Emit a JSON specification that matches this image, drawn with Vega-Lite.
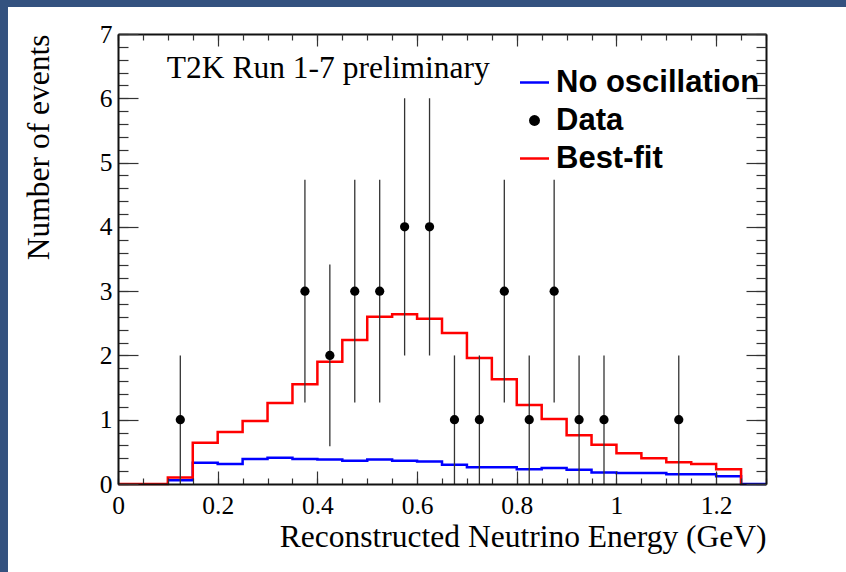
{
  "$schema": "https://vega.github.io/schema/vega-lite/v6.json",
  "width": 648,
  "height": 450,
  "autosize": "none",
  "padding": {"left": 118, "top": 34, "right": 80, "bottom": 88},
  "background": "#34527f",
  "config": {
    "view": {"stroke": null},
    "axis": {
      "zindex": 2, "grid": false,
      "labelFont": "Liberation Serif", "labelFontSize": 25.5, "labelColor": "#000",
      "titleFont": "Liberation Serif", "titleFontSize": 31.5, "titleFontWeight": "normal", "titleColor": "#000",
      "tickColor": "#333", "tickWidth": 1.2, "domainColor": "#111", "domainWidth": 2,
      "labelFlush": false, "labelOverlap": false, "format": "~g"
    }
  },
  "datasets": {
    "noosc": [
      {"series": "No oscillation", "e": 0.1, "v": 0.06},
      {"series": "No oscillation", "e": 0.15, "v": 0.33},
      {"series": "No oscillation", "e": 0.2, "v": 0.31},
      {"series": "No oscillation", "e": 0.25, "v": 0.39},
      {"series": "No oscillation", "e": 0.3, "v": 0.41},
      {"series": "No oscillation", "e": 0.35, "v": 0.39},
      {"series": "No oscillation", "e": 0.4, "v": 0.38},
      {"series": "No oscillation", "e": 0.45, "v": 0.36},
      {"series": "No oscillation", "e": 0.5, "v": 0.38},
      {"series": "No oscillation", "e": 0.55, "v": 0.36},
      {"series": "No oscillation", "e": 0.6, "v": 0.35},
      {"series": "No oscillation", "e": 0.65, "v": 0.30},
      {"series": "No oscillation", "e": 0.7, "v": 0.26},
      {"series": "No oscillation", "e": 0.75, "v": 0.26},
      {"series": "No oscillation", "e": 0.8, "v": 0.23},
      {"series": "No oscillation", "e": 0.85, "v": 0.25},
      {"series": "No oscillation", "e": 0.9, "v": 0.22},
      {"series": "No oscillation", "e": 0.95, "v": 0.18},
      {"series": "No oscillation", "e": 1.0, "v": 0.17},
      {"series": "No oscillation", "e": 1.05, "v": 0.17},
      {"series": "No oscillation", "e": 1.1, "v": 0.15},
      {"series": "No oscillation", "e": 1.15, "v": 0.15},
      {"series": "No oscillation", "e": 1.2, "v": 0.12},
      {"series": "No oscillation", "e": 1.25, "v": 0},
      {"series": "No oscillation", "e": 1.3, "v": 0}
    ],
    "bestfit": [
      {"series": "Best-fit", "e": 0, "v": 0},
      {"series": "Best-fit", "e": 0.05, "v": 0},
      {"series": "Best-fit", "e": 0.1, "v": 0.1},
      {"series": "Best-fit", "e": 0.15, "v": 0.64},
      {"series": "Best-fit", "e": 0.2, "v": 0.81},
      {"series": "Best-fit", "e": 0.25, "v": 0.98},
      {"series": "Best-fit", "e": 0.3, "v": 1.26},
      {"series": "Best-fit", "e": 0.35, "v": 1.55},
      {"series": "Best-fit", "e": 0.4, "v": 1.90},
      {"series": "Best-fit", "e": 0.45, "v": 2.24},
      {"series": "Best-fit", "e": 0.5, "v": 2.60},
      {"series": "Best-fit", "e": 0.55, "v": 2.64},
      {"series": "Best-fit", "e": 0.6, "v": 2.57},
      {"series": "Best-fit", "e": 0.65, "v": 2.35},
      {"series": "Best-fit", "e": 0.7, "v": 1.96},
      {"series": "Best-fit", "e": 0.75, "v": 1.63},
      {"series": "Best-fit", "e": 0.8, "v": 1.23},
      {"series": "Best-fit", "e": 0.85, "v": 1.01},
      {"series": "Best-fit", "e": 0.9, "v": 0.76},
      {"series": "Best-fit", "e": 0.95, "v": 0.61},
      {"series": "Best-fit", "e": 1.0, "v": 0.48},
      {"series": "Best-fit", "e": 1.05, "v": 0.40},
      {"series": "Best-fit", "e": 1.1, "v": 0.34},
      {"series": "Best-fit", "e": 1.15, "v": 0.31},
      {"series": "Best-fit", "e": 1.2, "v": 0.23},
      {"series": "Best-fit", "e": 1.25, "v": 0}
    ],
    "data": [
      {"series": "Data", "x": 0.125, "n": 1, "lo": 0, "hi": 2},
      {"series": "Data", "x": 0.375, "n": 3, "lo": 1.268, "hi": 4.732},
      {"series": "Data", "x": 0.425, "n": 2, "lo": 0.586, "hi": 3.414},
      {"series": "Data", "x": 0.475, "n": 3, "lo": 1.268, "hi": 4.732},
      {"series": "Data", "x": 0.525, "n": 3, "lo": 1.268, "hi": 4.732},
      {"series": "Data", "x": 0.575, "n": 4, "lo": 2, "hi": 6},
      {"series": "Data", "x": 0.625, "n": 4, "lo": 2, "hi": 6},
      {"series": "Data", "x": 0.675, "n": 1, "lo": 0, "hi": 2},
      {"series": "Data", "x": 0.725, "n": 1, "lo": 0, "hi": 2},
      {"series": "Data", "x": 0.775, "n": 3, "lo": 1.268, "hi": 4.732},
      {"series": "Data", "x": 0.825, "n": 1, "lo": 0, "hi": 2},
      {"series": "Data", "x": 0.875, "n": 3, "lo": 1.268, "hi": 4.732},
      {"series": "Data", "x": 0.925, "n": 1, "lo": 0, "hi": 2},
      {"series": "Data", "x": 0.975, "n": 1, "lo": 0, "hi": 2},
      {"series": "Data", "x": 1.125, "n": 1, "lo": 0, "hi": 2}
    ]
  },
  "layer": [
    {
      "data": {"values": [{"panel": "frame"}]},
      "mark": {"type": "rect", "fill": "#ffffff", "stroke": null, "clip": false, "zindex": 0},
      "encoding": {
        "x": {"datum": -0.2207, "type": "quantitative", "scale": {"domain": [0, 1.3], "nice": false, "zero": false}, "axis": null},
        "x2": {"datum": 1.8},
        "y": {"datum": 7.42, "type": "quantitative", "scale": {"domain": [0, 7], "nice": false, "zero": false}, "axis": null},
        "y2": {"datum": -2.5}
      }
    },
    {
      "data": {"name": "noosc"},
      "mark": {"type": "line", "interpolate": "step-after", "strokeWidth": 2.5},
      "encoding": {
        "x": {"field": "e", "type": "quantitative", "scale": {"domain": [0, 1.3], "nice": false, "zero": false},
          "axis": {"orient": "bottom", "zindex": 2, "title": null, "labels": false, "domain": false, "tickSize": -6,
            "values": [0,0.05,0.1,0.15,0.2,0.25,0.3,0.35,0.4,0.45,0.5,0.55,0.6,0.65,0.7,0.75,0.8,0.85,0.9,0.95,1,1.05,1.1,1.15,1.2,1.25,1.3]}},
        "y": {"field": "v", "type": "quantitative", "scale": {"domain": [0, 7], "nice": false, "zero": false},
          "axis": {"orient": "left", "zindex": 2, "title": null, "labels": false, "domain": false, "tickSize": -10,
            "values": [0,0.2,0.4,0.6,0.8,1,1.2,1.4,1.6,1.8,2,2.2,2.4,2.6,2.8,3,3.2,3.4,3.6,3.8,4,4.2,4.4,4.6,4.8,5,5.2,5.4,5.6,5.8,6,6.2,6.4,6.6,6.8,7]}},
        "color": {"field": "series", "type": "nominal",
          "scale": {"domain": ["No oscillation", "Data", "Best-fit"], "range": ["#0000ff", "#000000", "#ff0000"]},
          "legend": {"title": null}}
      }
    },
    {
      "data": {"name": "bestfit"},
      "mark": {"type": "line", "interpolate": "step-after", "strokeWidth": 2.5},
      "encoding": {
        "x": {"field": "e", "type": "quantitative", "scale": {"domain": [0, 1.3], "nice": false, "zero": false},
          "axis": {"orient": "bottom", "zindex": 2, "title": "Reconstructed Neutrino Energy (GeV)", "titleAnchor": "end", "titlePadding": 3,
            "labels": true, "domain": true, "tickSize": -13, "labelPadding": 22,
            "values": [0, 0.2, 0.4, 0.6, 0.8, 1, 1.2]}},
        "y": {"field": "v", "type": "quantitative", "scale": {"domain": [0, 7], "nice": false, "zero": false},
          "axis": {"orient": "left", "zindex": 2, "title": "Number of events", "titleAnchor": "end", "titlePadding": 44,
            "labels": true, "domain": true, "tickSize": -20, "labelPadding": 26,
            "values": [0, 1, 2, 3, 4, 5, 6, 7]}},
        "color": {"field": "series", "type": "nominal",
          "scale": {"domain": ["No oscillation", "Data", "Best-fit"], "range": ["#0000ff", "#000000", "#ff0000"]},
          "legend": {
            "title": null, "orient": "none", "legendX": 401, "legendY": 33, "padding": 0, "zindex": 2,
            "labelFont": "Liberation Sans", "labelFontWeight": "bold", "labelFontSize": 31, "labelColor": "#000", "labelLimit": 400,
            "symbolSize": 120, "labelOffset": 6, "rowPadding": 6, "symbolStrokeWidth": 2.5,
            "encode": {"symbols": {"update": {
              "shape": {"scale": "shape", "field": "value"},
              "fill": {"scale": "color", "field": "value"},
              "stroke": {"scale": "color", "field": "value"},
              "strokeWidth": {"signal": "datum.value === 'Data' ? 0 : 2.5"},
              "opacity": {"value": 1}, "fillOpacity": {"value": 1}, "strokeOpacity": {"value": 1}
            }}}
          }}
      }
    },
    {
      "data": {"name": "data"},
      "mark": {"type": "rule", "color": "#333333", "strokeWidth": 1.3},
      "encoding": {
        "x": {"field": "x", "type": "quantitative", "scale": {"domain": [0, 1.3], "nice": false, "zero": false},
          "axis": {"orient": "top", "zindex": 2, "title": null, "labels": false, "domain": true, "tickSize": -12,
            "values": [0, 0.2, 0.4, 0.6, 0.8, 1, 1.2]}},
        "y": {"field": "lo", "type": "quantitative", "scale": {"domain": [0, 7], "nice": false, "zero": false},
          "axis": {"orient": "right", "zindex": 2, "title": null, "labels": false, "domain": true, "tickSize": -20,
            "values": [0, 1, 2, 3, 4, 5, 6, 7]}},
        "y2": {"field": "hi"}
      }
    },
    {
      "data": {"name": "data"},
      "mark": {"type": "point", "filled": true, "opacity": 1, "size": 85},
      "encoding": {
        "x": {"field": "x", "type": "quantitative", "scale": {"domain": [0, 1.3], "nice": false, "zero": false},
          "axis": {"orient": "top", "zindex": 2, "title": null, "labels": false, "domain": false, "tickSize": -6,
            "values": [0,0.05,0.1,0.15,0.2,0.25,0.3,0.35,0.4,0.45,0.5,0.55,0.6,0.65,0.7,0.75,0.8,0.85,0.9,0.95,1,1.05,1.1,1.15,1.2,1.25,1.3]}},
        "y": {"field": "n", "type": "quantitative", "scale": {"domain": [0, 7], "nice": false, "zero": false},
          "axis": {"orient": "right", "zindex": 2, "title": null, "labels": false, "domain": false, "tickSize": -10,
            "values": [0,0.2,0.4,0.6,0.8,1,1.2,1.4,1.6,1.8,2,2.2,2.4,2.6,2.8,3,3.2,3.4,3.6,3.8,4,4.2,4.4,4.6,4.8,5,5.2,5.4,5.6,5.8,6,6.2,6.4,6.6,6.8,7]}},
        "color": {"field": "series", "type": "nominal",
          "scale": {"domain": ["No oscillation", "Data", "Best-fit"], "range": ["#0000ff", "#000000", "#ff0000"]},
          "legend": {"title": null}},
        "shape": {"field": "series", "type": "nominal",
          "scale": {"domain": ["No oscillation", "Data", "Best-fit"], "range": ["M-2.65,0H2.65", "circle", "M-2.65,0H2.65"]},
          "legend": null}
      }
    },
    {
      "data": {"values": [{"label": "T2K Run 1-7 preliminary"}]},
      "mark": {"type": "text", "align": "left", "baseline": "alphabetic", "font": "Liberation Serif", "fontSize": 31.5, "color": "#000"},
      "encoding": {
        "x": {"datum": 0.098, "type": "quantitative", "scale": {"domain": [0, 1.3], "nice": false, "zero": false}, "axis": null},
        "y": {"datum": 6.315, "type": "quantitative", "scale": {"domain": [0, 7], "nice": false, "zero": false}, "axis": null},
        "text": {"field": "label"}
      }
    }
  ],
  "resolve": {"axis": {"x": "independent", "y": "independent"}}
}
